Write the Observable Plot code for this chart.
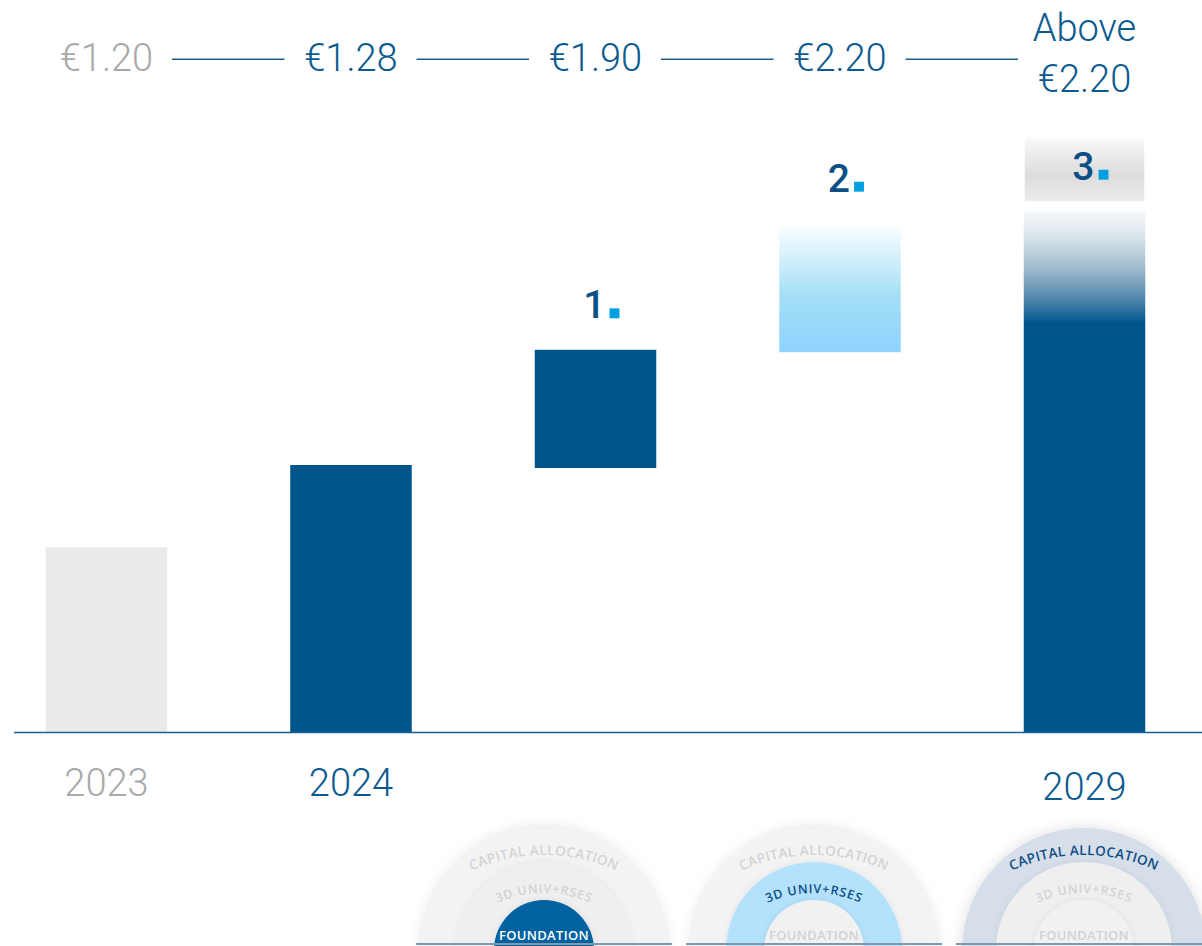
<!DOCTYPE html>
<html>
<head>
<meta charset="utf-8">
<script src="https://cdn.jsdelivr.net/npm/d3@7"></script>
<script src="https://cdn.jsdelivr.net/npm/@observablehq/plot@0.6"></script>
<style>
  html, body { margin: 0; padding: 0; background: #ffffff; overflow: hidden; }
  #chart svg { display: block; }
</style>
</head>
<body>
<div id="chart"></div>
<script>
// ---------- data (y in chart index units) ----------
const categories  = ["2023", "2024", "1", "2", "2029"];
const kinds       = ["base", "actual", "step", "stepLight", "target"];
const barStart    = [0, 0, 44, 63.3, 0];
const barEnd      = [30.8, 44.5, 63.7, 84.8, 86.8];
const valueLabels = ["€1.20", "€1.28", "€1.90", "€2.20", "Above\n€2.20"];
const valueMuted  = [true, false, false, false, false];
const yearLabels  = ["2023", "2024", "", "", "2029"];
const stepLabels  = ["", "", "1", "2", "3"];
const pillars     = ["FOUNDATION", "3D UNIV+RSES", "CAPITAL ALLOCATION"];

const valueRowLevel = 112.2;   // annotation row for the value labels

const bars = categories.map((c, i) => ({
  i, category: c, kind: kinds[i], start: barStart[i], end: barEnd[i],
  value: valueLabels[i], muted: valueMuted[i], year: yearLabels[i], step: stepLabels[i]
}));
const connectors = bars.slice(0, -1).map(d => ({from: d.i, to: d.i + 1}));
const steps = bars.filter(d => d.step);

const BLUE = "#00558b";
const TEXT_BLUE = "#0b5a8f";
const GREY_TEXT = "#a9a9a9";

// ---------- gradients / filters ----------
function defsMark() {
  const g = d3.create("svg:g");
  const defs = g.append("defs");
  const lg = (id, stops) => {
    const el = defs.append("linearGradient").attr("id", id)
      .attr("x1", 0).attr("y1", 0).attr("x2", 0).attr("y2", 1);
    stops.forEach(([o, c]) => el.append("stop").attr("offset", o).attr("stop-color", c));
  };
  lg("gradStepLight", [[0, "#ffffff"], [0.3, "#cdeefa"], [0.55, "#a5e0f6"], [1, "#8ed1fd"]]);
  lg("gradTarget", [[0, "#f6f9fb"], [0.05, "#d9e4eb"], [0.11, "#9fbacd"], [0.17, "#4f85ab"], [0.215, BLUE], [1, BLUE]]);
  lg("gradBox", [[0, "#fbfbfb"], [0.25, "#ededed"], [0.6, "#dcdcdc"], [1, "#ececec"]]);
  const f = defs.append("filter").attr("id", "pillarShadow")
    .attr("x", "-30%").attr("y", "-30%").attr("width", "160%").attr("height", "160%");
  f.append("feDropShadow").attr("dx", 0).attr("dy", 0).attr("stdDeviation", 7)
    .attr("flood-color", "#000").attr("flood-opacity", 0.13);
  const f2 = defs.append("filter").attr("id", "ringShadow")
    .attr("x", "-30%").attr("y", "-30%").attr("width", "160%").attr("height", "160%");
  f2.append("feDropShadow").attr("dx", 0).attr("dy", 0).attr("stdDeviation", 3)
    .attr("flood-color", "#000").attr("flood-opacity", 0.07);
  return g.node();
}

// ---------- pillar diagrams (concentric rings) ----------
function pillarMark(index, scales, values, dimensions) {
  const g = d3.create("svg:g").attr("font-family", "'Open Sans', 'Noto Sans', sans-serif");
  const cy = dimensions.height + 4;
  const anchorX = scales.x(categories.length - 1);
  const spacing = 270;
  const n = pillars.length;
  pillars.forEach((name, k) => {
    const cx = anchorX - (n - 1 - k) * spacing;
    const p = g.append("g");
    p.append("circle").attr("cx", cx).attr("cy", cy).attr("r", 122)
      .attr("fill", k === 2 ? "#d6deea" : "#f3f3f3").attr("filter", "url(#pillarShadow)");
    p.append("circle").attr("cx", cx).attr("cy", cy).attr("r", 88)
      .attr("fill", k === 1 ? "#b4e1fb" : "#efefef").attr("filter", "url(#ringShadow)");
    p.append("circle").attr("cx", cx).attr("cy", cy).attr("r", 50)
      .attr("fill", k === 0 ? "#0062a0" : "#f1f1f1").attr("filter", "url(#ringShadow)");

    // text on a gentle arc whose top sits at topY
    const arcText = (label, topY, r, size, spacingPx, active, id) => {
      const acy = topY + r;
      p.append("path").attr("id", id).attr("fill", "none")
        .attr("d", `M${cx - r},${acy} A${r},${r} 0 0 1 ${cx + r},${acy}`);
      p.append("text")
        .attr("font-size", size).attr("font-weight", 600).attr("letter-spacing", spacingPx)
        .attr("fill", active ? "#0d4f85" : "#d3d3d3")
        .append("textPath")
        .attr("href", "#" + id).attr("xlink:href", "#" + id)
        .attr("startOffset", "50%").attr("text-anchor", "middle")
        .text(label);
    };
    arcText(pillars[2], cy - 95, 175, 13.5, 0.4, k === 2, "arcOuter" + k);
    arcText(pillars[1], cy - 57, 115, 12.5, 0.8, k === 1, "arcMiddle" + k);
    p.append("text").attr("x", cx).attr("y", cy - 10).attr("text-anchor", "middle")
      .attr("font-size", 13).attr("font-weight", 600).attr("letter-spacing", 0.3)
      .attr("fill", k === 0 ? "#ffffff" : "#d2d2d2").text(pillars[0]);
    p.append("line").attr("x1", cx - 128).attr("x2", cx + 128)
      .attr("y1", cy - 6).attr("y2", cy - 6)
      .attr("stroke", "#8098ac").attr("stroke-width", 2);
  });
  return g.node();
}

const chart = Plot.plot({
  width: 1202,
  height: 946,
  margin: 0,
  style: {background: "#ffffff", overflow: "hidden", fontFamily: "Roboto, 'Open Sans', sans-serif"},
  x: {type: "linear", domain: [-0.4335, 4.4826], range: [0, 1202], axis: null},
  y: {domain: [0, 100], range: [732, 132], axis: null},
  color: {domain: kinds, range: ["#e9ebeb", BLUE, BLUE, "url(#gradStepLight)", "url(#gradTarget)"]},
  marks: [
    defsMark,
    pillarMark,
    Plot.rect(bars, {
      x1: d => d.i - 0.5, x2: d => d.i + 0.5, y1: "start", y2: "end",
      insetLeft: 62, insetRight: 61, fill: "kind"
    }),
    Plot.rect(steps.filter(d => d.kind === "target"), {
      x1: d => d.i - 0.5, x2: d => d.i + 0.5, y1: "end", y2: "end",
      insetLeft: 63, insetRight: 62, insetTop: -64, dy: -10, fill: "url(#gradBox)"
    }),
    Plot.ruleY([0], {stroke: "#1d5f92", strokeWidth: 1.6, insetLeft: 14}),
    Plot.ruleY(connectors, {
      x1: "from", x2: "to", y: valueRowLevel,
      insetLeft: 66, insetRight: 66, stroke: "#1f5d8f", strokeWidth: 1.5
    }),
    Plot.text(bars.filter(d => !d.value.includes("\n")), {
      x: "i", y: valueRowLevel, text: "value",
      fill: d => d.muted ? GREY_TEXT : TEXT_BLUE,
      fontSize: 38, fontWeight: 300, fontFamily: "Roboto, sans-serif"
    }),
    Plot.text(bars.filter(d => d.value.includes("\n")), {
      x: "i", y: valueRowLevel, text: "value", dy: -9, lineHeight: 1.34,
      fill: d => d.muted ? GREY_TEXT : TEXT_BLUE,
      fontSize: 38, fontWeight: 300, fontFamily: "Roboto, sans-serif"
    }),
    Plot.text(bars.filter(d => d.year && d.kind !== "target"), {
      x: "i", y: 0, dy: 51, text: "year",
      fill: d => d.muted ? GREY_TEXT : TEXT_BLUE,
      fontSize: 38, fontWeight: 300, fontFamily: "Roboto, sans-serif"
    }),
    Plot.text(bars.filter(d => d.year && d.kind === "target"), {
      x: "i", y: 0, dy: 55, text: "year", fill: TEXT_BLUE,
      fontSize: 38, fontWeight: 300, fontFamily: "Roboto, sans-serif"
    }),
    Plot.text(steps, {
      x: "i", y: "end", text: "step", textAnchor: "end", lineAnchor: "bottom",
      dx: 10, dy: -32, fill: "#0a4f85", fontSize: 39, fontWeight: 500,
      fontFamily: "Roboto, sans-serif"
    }),
    Plot.dot(steps, {
      x: "i", y: "end", dx: 19, dy: -37, symbol: "square", r: 5.6,
      fill: "#009fe0", stroke: null
    })
  ]
});

document.getElementById("chart").appendChild(chart);
</script>
</body>
</html>
